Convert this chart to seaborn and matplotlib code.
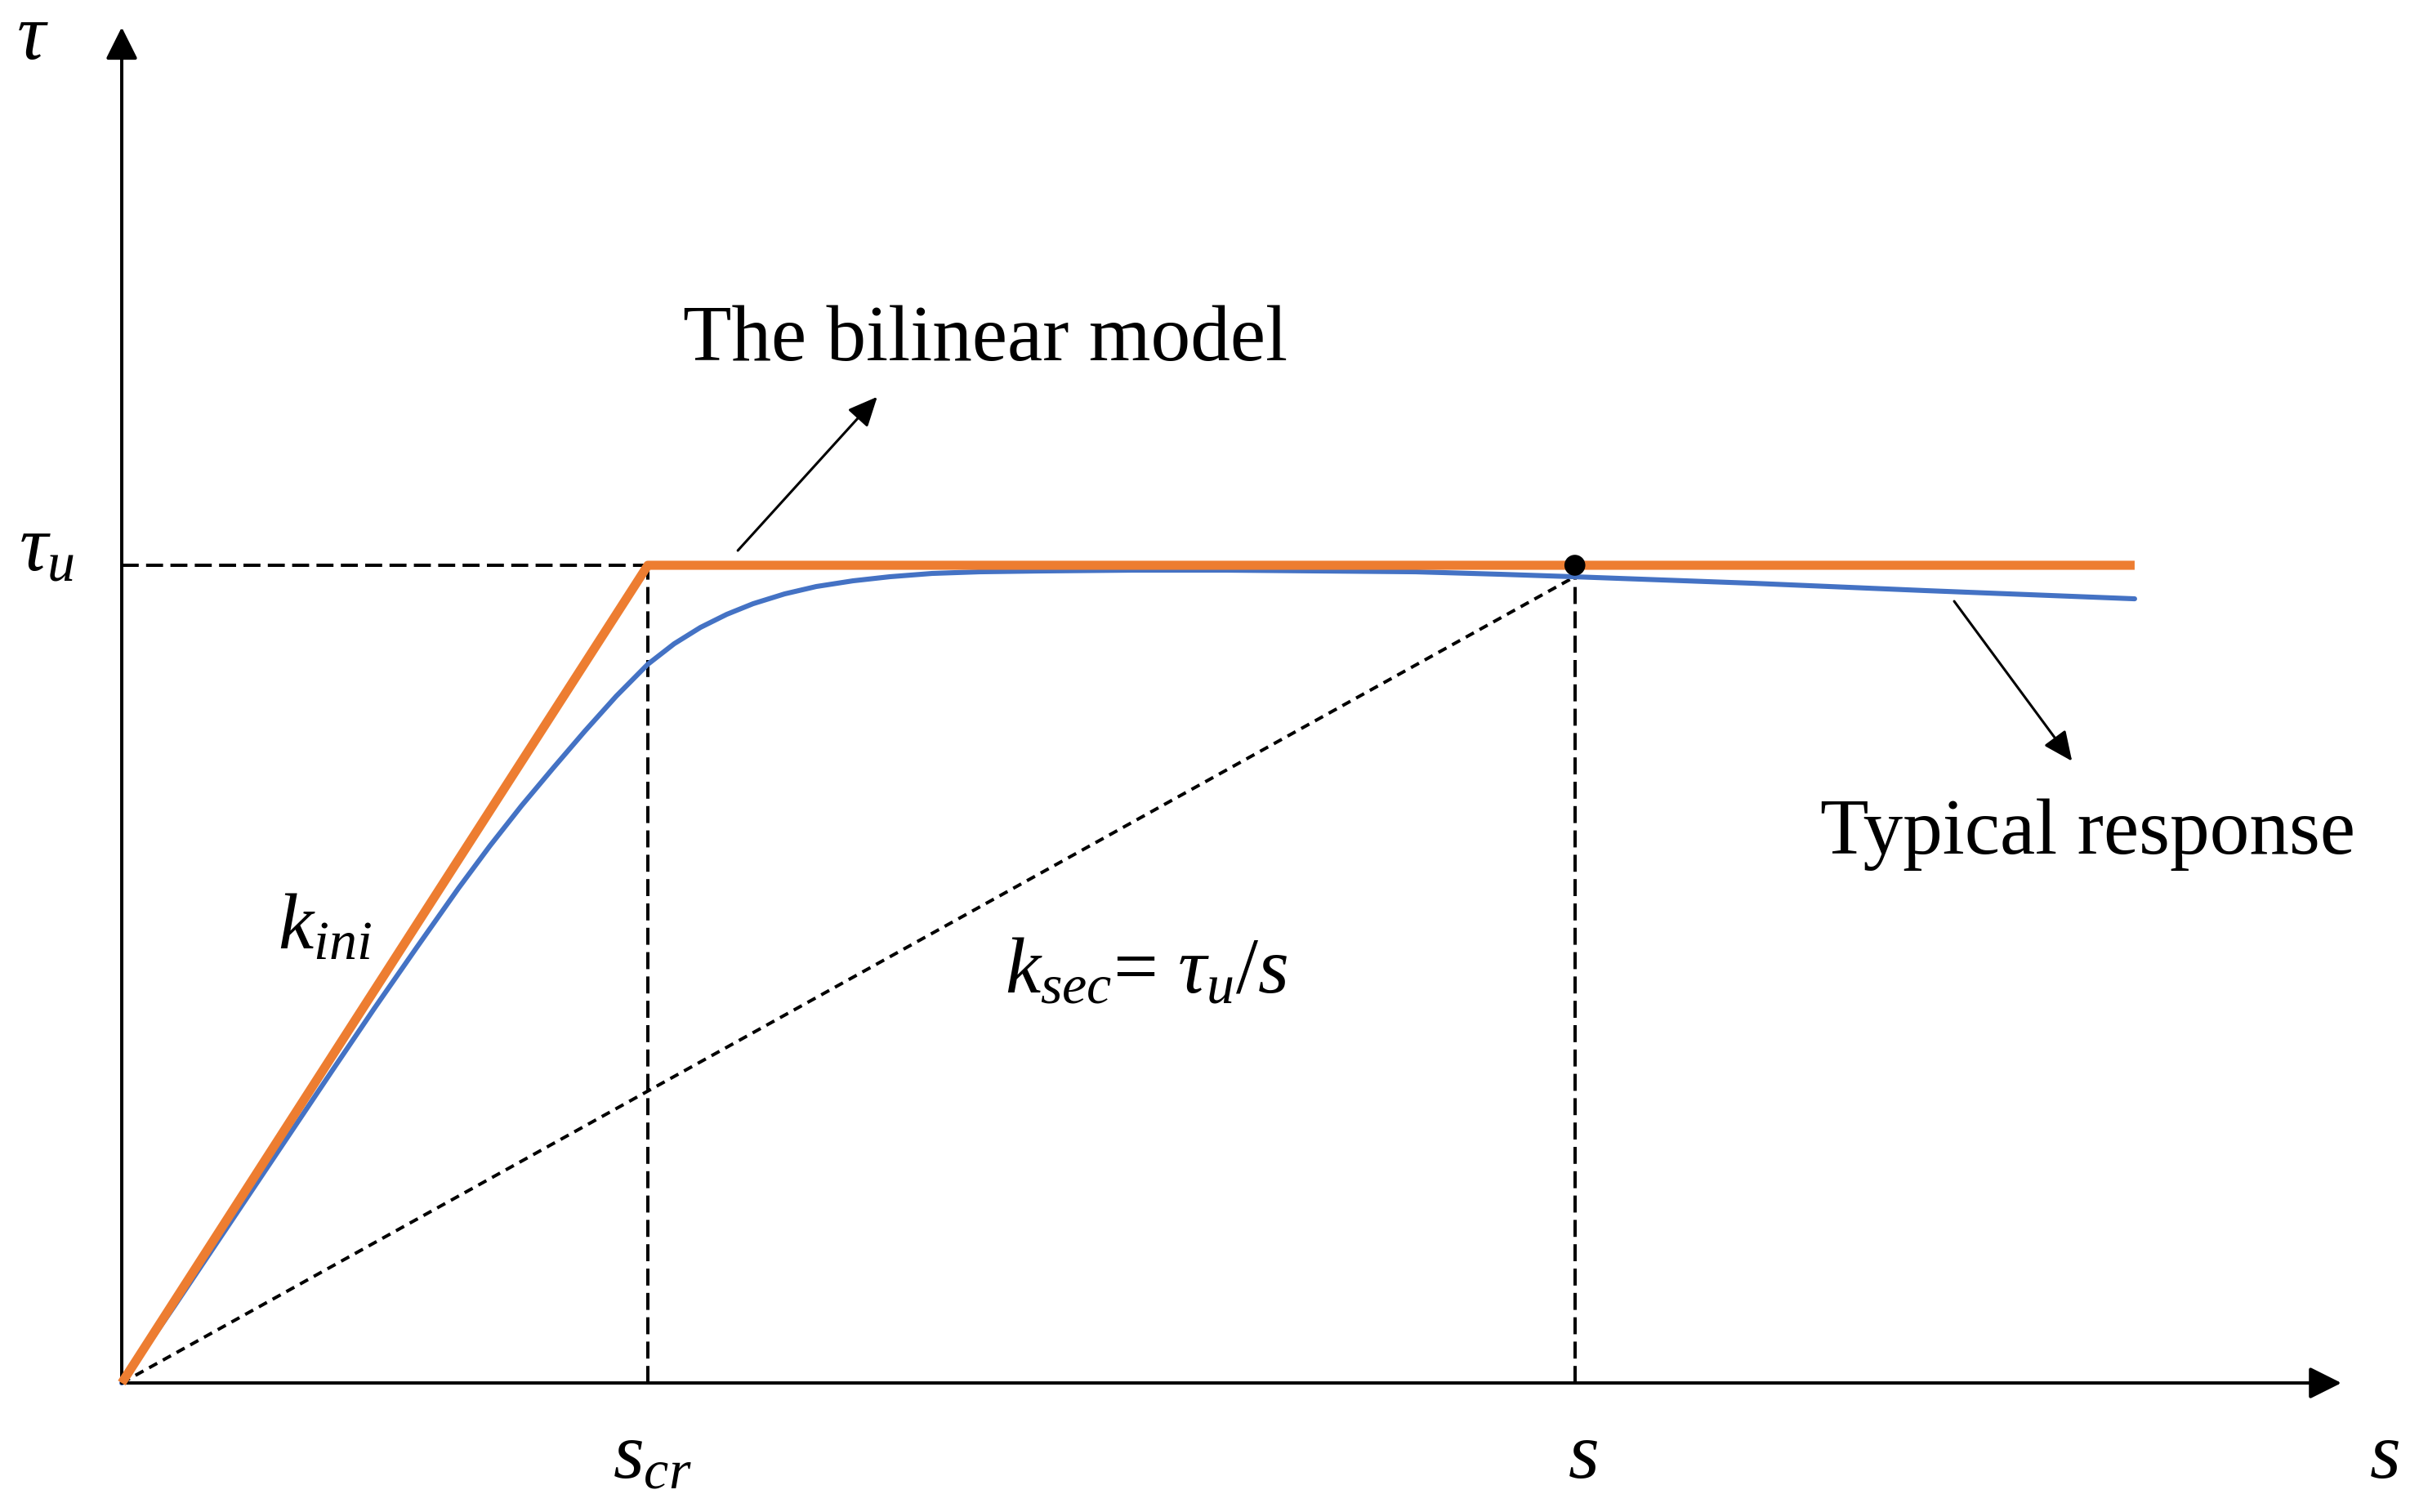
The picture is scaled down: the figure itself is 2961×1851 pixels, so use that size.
import matplotlib
matplotlib.use('Agg')
import matplotlib.pyplot as plt
import numpy as np
import pandas as pd
import seaborn as sns

# Values (slip in units of s_cr, stress in units of tau_u)
s_cr = 1.0
s_point = 2.762
tau_u = 1.0
s_end = 3.826
x_axis_end = 4.219
y_axis_end = 1.658

bilinear_s = [0.0, s_cr, s_end]
bilinear_tau = [0.0, tau_u, tau_u]

typical_s = [0.00, 0.10, 0.20, 0.30, 0.40, 0.48, 0.56, 0.64, 0.70, 0.76, 0.82, 0.88, 0.94, 1.00,
             1.05, 1.10, 1.15, 1.20, 1.26, 1.32, 1.39, 1.46, 1.54, 1.63, 1.744, 1.92, 2.10, 2.28,
             2.46, 2.62, 2.76, 3.10, 3.43, 3.826]
typical_tau = [0.000, 0.094, 0.190, 0.286, 0.382, 0.458, 0.532, 0.605, 0.657, 0.706, 0.752, 0.797, 0.840, 0.879,
               0.904, 0.924, 0.940, 0.953, 0.965, 0.974, 0.981, 0.986, 0.990, 0.992, 0.993, 0.994, 0.994, 0.993,
               0.992, 0.989, 0.986, 0.978, 0.969, 0.959]
tau_at_s = 0.986

df_bi = pd.DataFrame({'s': bilinear_s, 'tau': bilinear_tau})
df_typ = pd.DataFrame({'s': typical_s, 'tau': typical_tau})

sns.set_theme(style='white')
plt.rcParams['font.family'] = ['Liberation Serif', 'DejaVu Serif']
plt.rcParams['text.color'] = 'black'
plt.rcParams['mathtext.fontset'] = 'custom'
plt.rcParams['mathtext.rm'] = 'Liberation Serif'
plt.rcParams['mathtext.it'] = 'Liberation Serif:italic'
plt.rcParams['mathtext.bf'] = 'Liberation Serif:bold'

fig = plt.figure(figsize=(14.805, 9.255), dpi=200)
ax = fig.add_axes([0, 0, 1, 1])
ax.set_xlim(-0.2314, 4.3665)
ax.set_ylim(-0.1578, 1.6913)
ax.axis('off')

orange = '#ED7D31'
blue = '#4472C4'
lw_axis = 1.44

# guide lines
ax.plot([0, s_cr], [tau_u, tau_u], color='black', lw=lw_axis, linestyle=(0, (5.2, 2.25)), zorder=1)
ax.plot([s_cr, s_cr], [0, tau_u], color='black', lw=lw_axis, linestyle=(0, (5.2, 2.25)), zorder=1)
ax.plot([s_point, s_point], [0, tau_at_s], color='black', lw=lw_axis, linestyle=(0, (5.2, 2.25)), zorder=1)
ax.plot([0, s_point], [0, tau_at_s], color='black', lw=lw_axis, linestyle=(0, (2.8, 2.0)), zorder=1)

# curves
sns.lineplot(data=df_typ, x='s', y='tau', color=blue, lw=2.2, estimator=None, sort=False, ax=ax, zorder=3)
sns.lineplot(data=df_bi, x='s', y='tau', color=orange, lw=4.0, estimator=None, sort=False, ax=ax, zorder=4,
             solid_capstyle='butt')
sns.scatterplot(x=[s_point], y=[tau_u], color='black', s=85, edgecolor='none', ax=ax, zorder=5)

# axes with arrow heads
axis_arrow = dict(arrowstyle='-|>,head_length=0.6,head_width=0.3', color='black', lw=lw_axis,
                  shrinkA=0, shrinkB=0, mutation_scale=20)
ax.annotate('', xy=(0, y_axis_end), xytext=(0, 0), arrowprops=axis_arrow)
ax.annotate('', xy=(x_axis_end, 0), xytext=(0, 0), arrowprops=axis_arrow)

# pointer arrows
pointer = dict(arrowstyle='-|>,head_length=0.55,head_width=0.25', color='black', lw=1.1,
               shrinkA=0, shrinkB=0, mutation_scale=20)
ax.annotate('', xy=(1.436, 1.206), xytext=(1.171, 1.018), arrowprops=pointer)
ax.annotate('', xy=(3.707, 0.7605), xytext=(3.483, 0.956), arrowprops=pointer)

fs = 35
ax.text(-0.169, 1.643, r'$\tau$', fontsize=fs, ha='center', va='center', color='black')
ax.text(-0.196, 0.994, r'$\tau_u$', fontsize=fs, ha='left', va='baseline', color='black')
ax.text(0.933, -0.116, r'$s_{cr}$', fontsize=fs, ha='left', va='baseline', color='black')
ax.text(2.748, -0.116, r'$s$', fontsize=fs, ha='left', va='baseline', color='black')
ax.text(4.272, -0.116, r'$s$', fontsize=fs, ha='left', va='baseline', color='black')
ax.text(0.297, 0.532, r'$k_{ini}$', fontsize=fs, ha='left', va='baseline', color='black')
ax.text(1.679, 0.4775, r'$k_{sec}$= $\tau_u/s$', fontsize=fs, ha='left', va='baseline', color='black')
ax.text(1.066, 1.251, 'The bilinear model', fontsize=fs, ha='left', va='baseline', color='black')
ax.text(3.228, 0.647, 'Typical response', fontsize=fs, ha='left', va='baseline', color='black')

fig.savefig('out.png', dpi=200, facecolor='white')
